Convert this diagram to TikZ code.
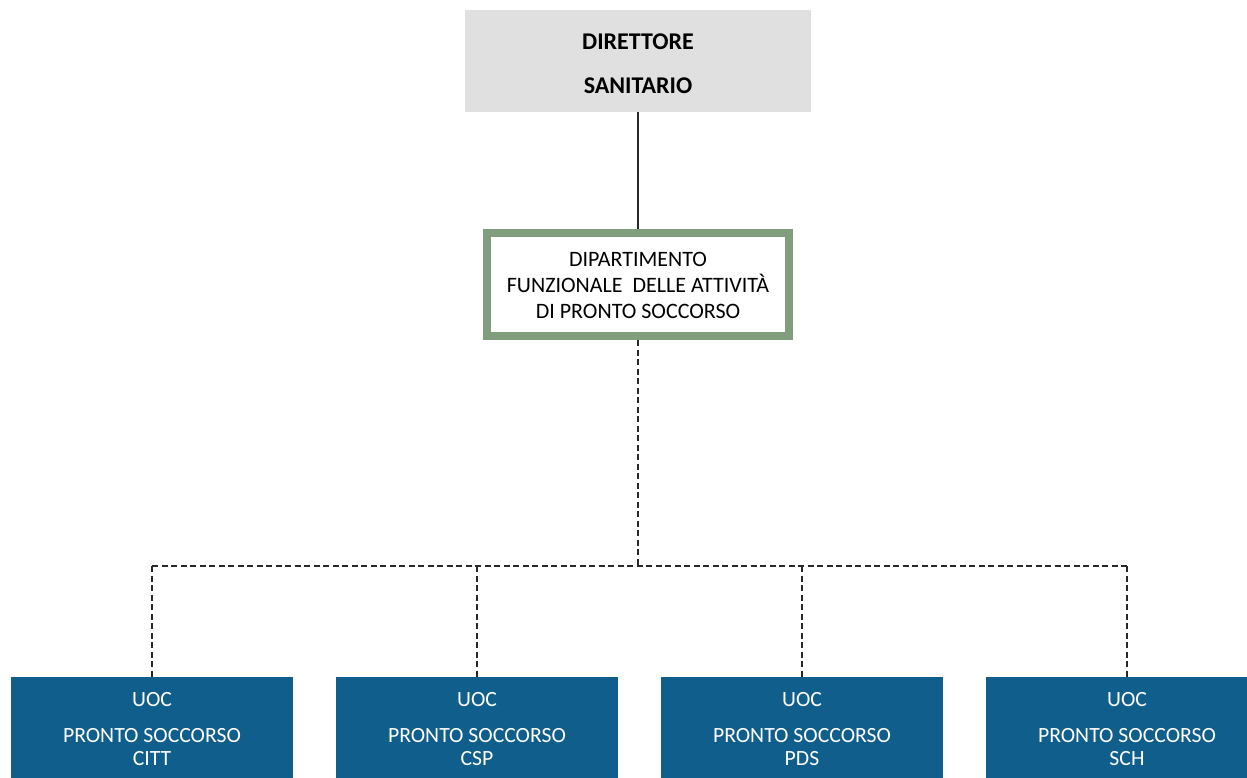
\documentclass[tikz,border=0pt]{standalone}
\usepackage{fontspec}
\setmainfont{Carlito}
\definecolor{topgray}{RGB}{224,224,224}
\definecolor{deptgreen}{RGB}{128,158,126}
\definecolor{uocblue}{RGB}{16,94,139}
\definecolor{linkgray}{RGB}{40,40,40}
\tikzset{
  dirbox/.style={rectangle, fill=topgray, draw=none, minimum width=346pt, minimum height=102pt, inner sep=0pt},
  deptbox/.style={rectangle, draw=deptgreen, line width=8pt, fill=white, minimum width=302pt, minimum height=103pt, inner sep=0pt},
  uocbox/.style={rectangle, fill=uocblue, draw=none, minimum width=282pt, minimum height=130pt, inner sep=0pt},
  dirtext/.style={anchor=north, inner sep=0pt, align=center, font=\fontsize{24}{44}\selectfont\bfseries, text=black},
  depttext/.style={anchor=north, inner sep=0pt, align=center, font=\fontsize{22}{26}\selectfont, text=black},
  uoctext/.style={anchor=north, inner sep=0pt, align=center, font=\fontsize{21.7}{23}\selectfont, text=white},
  solidlink/.style={draw=linkgray, line width=2pt},
  dashlink/.style={draw=linkgray, line width=1.4pt, dash pattern=on 6pt off 3.5pt},
}
\begin{document}
\begin{tikzpicture}[x=1pt, y=-1pt]
  \useasboundingbox (0,0) rectangle (1247,777);
  \clip (0,0) rectangle (1247,777);

  % top management box
  \node[dirbox] (dir) at (638,61) {};
  \node[dirtext] (dirlbl) at (638,33.5) {DIRETTORE\\SANITARIO};

  % functional department
  \node[deptbox] (dept) at (638,284.5) {};
  \node[depttext] (deptlbl) at (638,252.5) {DIPARTIMENTO\\FUNZIONALE\ \ DELLE ATTIVITÀ\\DI PRONTO SOCCORSO};

  % operating units
  \node[uocbox] (citt) at (152,742) {};
  \node[uocbox] (csp)  at (477,742) {};
  \node[uocbox] (pds)  at (802,742) {};
  \node[uocbox] (sch)  at (1127,742) {};
  \node[uoctext] (cittlbl) at (152,692.5) {UOC\\[13pt]PRONTO SOCCORSO\\CITT};
  \node[uoctext] (csplbl)  at (477,692.5) {UOC\\[13pt]PRONTO SOCCORSO\\CSP};
  \node[uoctext] (pdslbl)  at (802,692.5) {UOC\\[13pt]PRONTO SOCCORSO\\PDS};
  \node[uoctext] (schlbl)  at (1127,692.5) {UOC\\[13pt]PRONTO SOCCORSO\\SCH};

  % connectors
  \coordinate (bus) at (638,566);
  \draw[solidlink] (dir.south) -- (dept.north);
  \draw[dashlink] (dept.south) -- (bus);
  \draw[dashlink] (bus -| citt.north) -- (bus -| sch.north);
  \draw[dashlink] (bus -| citt.north) -- (citt.north);
  \draw[dashlink] (bus -| csp.north) -- (csp.north);
  \draw[dashlink] (bus -| pds.north) -- (pds.north);
  \draw[dashlink] (bus -| sch.north) -- (sch.north);
\end{tikzpicture}
\end{document}
